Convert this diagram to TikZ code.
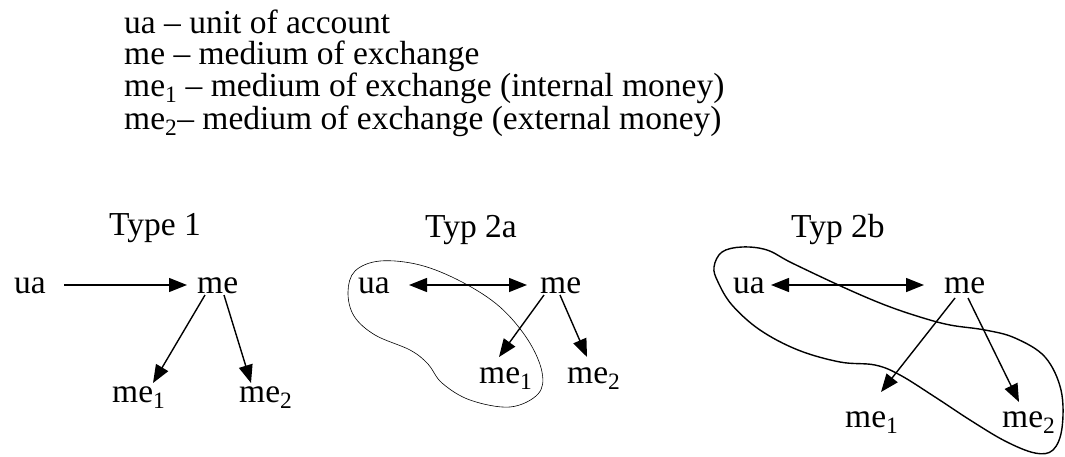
\documentclass[tikz,border=0pt]{standalone}
\usepackage{fontspec}
\setmainfont{Liberation Serif}
\usetikzlibrary{arrows.meta,calc}
\tikzset{
  txt/.style={inner sep=0pt, anchor=base west, font=\fontsize{33.5}{40}\selectfont},
  arr/.style={line width=1.4pt, -{Triangle[length=18pt,width=14pt]}},
  darr/.style={line width=1.4pt, {Triangle[length=18pt,width=14pt]}-{Triangle[length=18pt,width=14pt]}},
  thinblob/.style={line width=0.6pt},
  thickblob/.style={line width=1.4pt}
}
\begin{document}
\begin{tikzpicture}[x=1pt,y=-1pt]
\useasboundingbox (0,0) rectangle (1065,456);
% legend
\node[txt] (l1) at (124,33) {ua -- unit of account};
\node[txt] (l2) at (124,64) {me -- medium of exchange};
\node[txt] (l3) at (124,96) {me\textsubscript{1} -- medium of exchange (internal money)};
\node[txt] (l4) at (124,129) {me\textsubscript{2}-- medium of exchange (external money)};
% Type 1
\node[txt] (t1) at (109,235) {Type 1};
\node[txt] (ua1) at (14,293) {ua};
\node[txt] (me1) at (197,293) {me};
\node[txt] (mea1) at (112,402) {me\textsubscript{1}};
\node[txt] (meb1) at (239,402) {me\textsubscript{2}};
\draw[arr] ($(ua1.base west)+(50,-8)$) -- ($(me1.base west)+(-10,-8)$);
\draw[arr] ($(me1.base west)+(8,2)$) -- ($(mea1.base west)+(41,-19)$);
\draw[arr] ($(me1.base west)+(27,2)$) -- ($(meb1.base west)+(12,-19)$);
% Typ 2a
\node[txt] (t2) at (425,237) {Typ 2a};
\node[txt] (ua2) at (358,293) {ua};
\node[txt] (me2) at (540,293) {me};
\node[txt] (mea2) at (479,383) {me\textsubscript{1}};
\node[txt] (meb2) at (567,383) {me\textsubscript{2}};
\draw[darr] ($(ua2.base west)+(51,-8)$) -- ($(me2.base west)+(-13,-8)$);
\draw[arr] ($(me2.base west)+(4,2)$) -- ($(mea2.base west)+(20,-26)$);
\draw[arr] ($(me2.base west)+(20,2)$) -- ($(meb2.base west)+(20,-26)$);
\draw[thinblob] plot[smooth cycle, tension=0.6] coordinates {
  (348,292) (355,271) (380,261) (420,265) (462,282) (500,307) (528,340)
  (542,372) (538,394) (510,407) (470,400) (442,383) (428,364) (410,350)
  (375,335) (354,316)};
% Typ 2b
\node[txt] (t3) at (791,237) {Typ 2b};
\node[txt] (ua3) at (733,293) {ua};
\node[txt] (me3) at (944,293) {me};
\node[txt] (mea3) at (845,427) {me\textsubscript{1}};
\node[txt] (meb3) at (1002,427) {me\textsubscript{2}};
\draw[darr] ($(ua3.base west)+(38,-8)$) -- ($(me3.base west)+(-20,-8)$);
\draw[arr] ($(me3.base west)+(11,5)$) -- ($(mea3.base west)+(36,-35)$);
\draw[arr] ($(me3.base west)+(24,5)$) -- ($(meb3.base west)+(17,-25)$);
\draw[thickblob] plot[smooth cycle, tension=0.6] coordinates {
  (714,267) (722,252) (742,247) (767,250) (792,263) (845,288) (885,305)
  (920,317) (950,325) (985,330) (1015,338) (1045,357) (1061,390) (1062,428)
  (1053,450) (1035,453) (1005,441) (970,420) (935,397) (900,375) (875,365)
  (840,362) (798,350) (760,330) (732,305) (718,282)};
\end{tikzpicture}
\end{document}
